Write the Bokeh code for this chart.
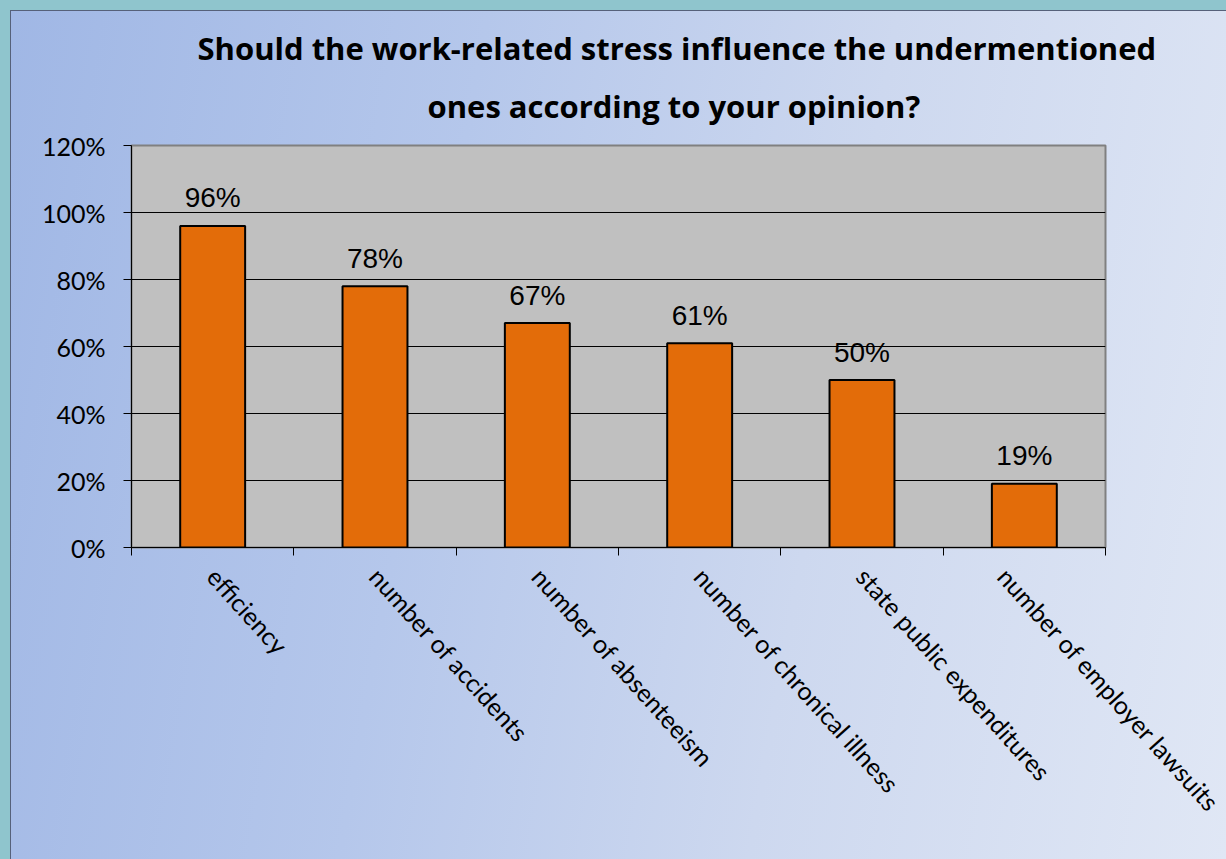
from bokeh.plotting import figure
from bokeh.models import (Range1d, LinearAxis, FixedTicker,
                          NumeralTickFormatter, Title, ColumnDataSource)
from bokeh.core.properties import value
from bokeh.embed import file_html
from bokeh.resources import INLINE
import math

# ---- data ----
categories = ["efficiency", "number of accidents", "number of absenteeism",
              "number of chronical illness", "state public expenditures",
              "number of employer lawsuits"]
shares = [0.96, 0.78, 0.67, 0.61, 0.50, 0.19]
share_labels = ["96%", "78%", "67%", "61%", "50%", "19%"]
y_ticks = [0.0, 0.2, 0.4, 0.6, 0.8, 1.0, 1.2]
title_lines = ["Should the work-related stress influence the undermentioned",
               "ones according to your opinion?"]

n = len(categories)
centers = [i + 0.5 for i in range(n)]
bounds = list(range(n + 1))

W, H = 1226, 859
p = figure(width=W, height=H, output_backend="svg", toolbar_location=None,
           x_range=Range1d(0, n), y_range=Range1d(0, 1.2),
           x_axis_location="below", y_axis_location="left",
           min_border_left=131, min_border_right=121,
           min_border_top=145, min_border_bottom=312)

p.border_fill_color = None
p.background_fill_color = "#c0c0c0"
p.outline_line_color = "#808080"
p.outline_line_width = 2
p.styles = {
    "background": ("linear-gradient(100deg, #a0b7e5 0%, #b5c7eb 35%, #cdd8ef 65%, #e0e7f5 100%) "
                   "11px 11px / 1215px 848px no-repeat, "
                   "linear-gradient(#56617a, #56617a) 10px 10px / 1216px 849px no-repeat, "
                   "#8fc5cd")
}

# y axis
yax = p.yaxis[0]
yax.ticker = FixedTicker(ticks=y_ticks)
yax.formatter = NumeralTickFormatter(format="0%")
yax.axis_line_color = "black"
yax.axis_line_width = 1
yax.major_tick_line_color = "black"
yax.major_tick_out = 8
yax.major_tick_in = 0
yax.minor_tick_line_color = None
yax.major_label_text_font = "Lato"
yax.major_label_text_font_size = "25px"
yax.major_label_text_color = "black"
yax.major_label_standoff = 18

p.ygrid.ticker = FixedTicker(ticks=y_ticks)
p.ygrid.grid_line_color = "black"
p.ygrid.grid_line_width = 1
p.xgrid.grid_line_color = None

# x axis: boundary ticks (main axis)
tick_ax = p.xaxis[0]
tick_ax.ticker = FixedTicker(ticks=bounds)
tick_ax.axis_line_color = "black"
tick_ax.major_tick_line_color = "black"
tick_ax.major_tick_out = 8
tick_ax.major_tick_in = 0
tick_ax.minor_tick_line_color = None
tick_ax.major_label_text_font_size = "0px"
tick_ax.major_label_text_color = None
tick_ax.major_label_standoff = 0

# category labels axis
cat_ax = LinearAxis(ticker=FixedTicker(ticks=centers),
                    major_label_overrides={c: name for c, name in zip(centers, categories)})
cat_ax.axis_line_color = None
cat_ax.major_tick_line_color = None
cat_ax.minor_tick_line_color = None
cat_ax.major_label_orientation = -math.radians(48)
cat_ax.major_label_text_font = "Lato"
cat_ax.major_label_text_font_size = "25px"
cat_ax.major_label_text_color = "black"
cat_ax.major_label_standoff = 10
p.add_layout(cat_ax, "below")

src = ColumnDataSource(dict(x=centers, share=shares, lab=share_labels))
p.vbar(x="x", top="share", width=0.4, source=src,
       fill_color="#e36c09", line_color="black", line_width=2)
p.text(x="x", y="share", text="lab", source=src, y_offset=-28,
       text_align="center", text_baseline="middle",
       text_font=value("Liberation Sans"), text_font_size="28px", text_color="black")

# title: second line nearest the frame, then first line above it
for txt, standoff, off in zip(reversed(title_lines), [37, -9], [296, 66]):
    p.add_layout(Title(text=txt, align="left", offset=off, standoff=standoff,
                       text_font="Open Sans", text_font_style="bold",
                       text_font_size="31px", text_color="black"), "above")

open("out.html", "w").write(file_html(p, INLINE))
